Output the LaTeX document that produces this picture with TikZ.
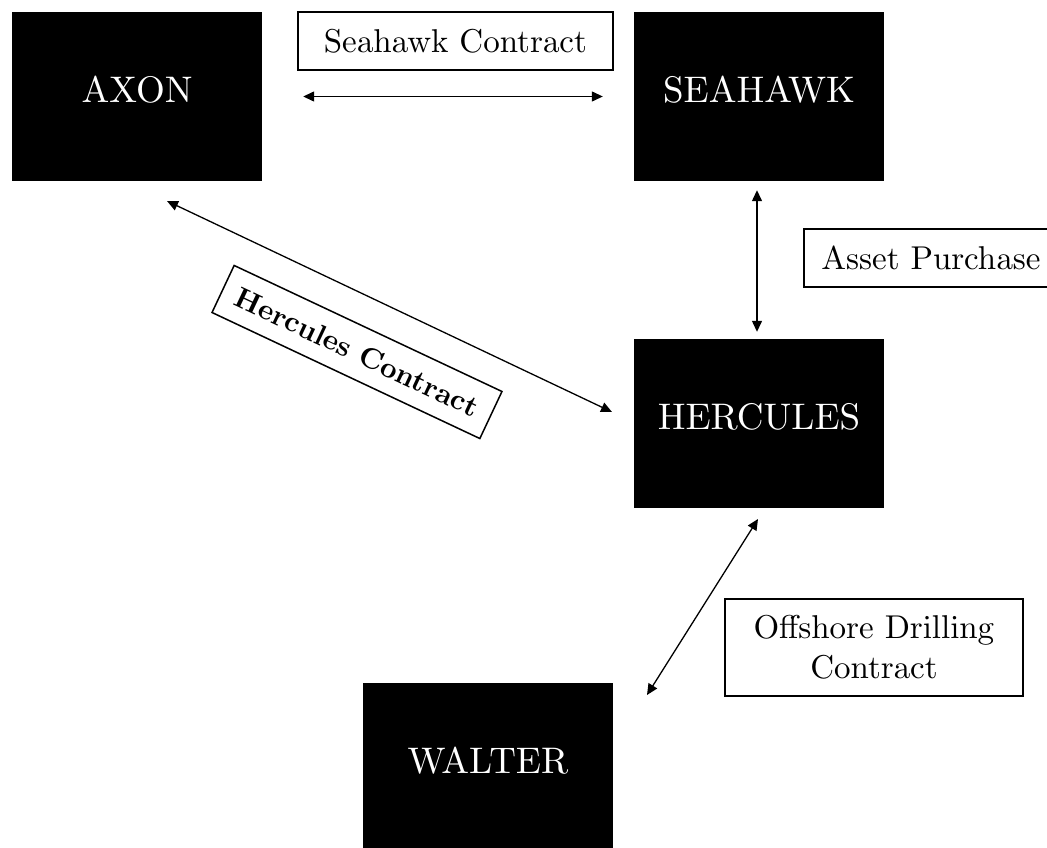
\documentclass[tikz,border=0pt]{standalone}
\usetikzlibrary{arrows.meta,calc}
\font\entfont=cmr10 at 37pt
\font\lblfont=cmr10 at 33pt
\font\lblbf=cmbx10 at 29pt
\begin{document}
\begin{tikzpicture}[x=1pt,y=-1pt,
  entity/.style={fill=black, text=white, minimum width=250pt, minimum height=169pt,
    inner sep=0pt, text depth=14pt, font=\entfont},
  lbl/.style={draw=black, line width=1.5pt, fill=white, inner sep=0pt,
    font={\lblfont\baselineskip=40pt}, align=center},
  arr/.style={line width=1.3pt, {Triangle[length=11pt,width=10pt]}-{Triangle[length=11pt,width=10pt]}}
]
\useasboundingbox (0,0) rectangle (1047,848);
\fill[white] (0,0) rectangle (1047,848);
\clip (0,0) rectangle (1047,848);

\node[entity] (axon) at (137,96.5) {AXON};
\node[entity] (seahawk) at (759,96.5) {SEAHAWK};
\node[entity] (hercules) at (759,423.5) {HERCULES};
\node[entity] (walter) at (488,767.5) {WALTER};

\node[lbl, minimum width=315pt, minimum height=58pt] (lseahawk) at (455.5,41) {Seahawk Contract};
\node[lbl, minimum width=254pt, minimum height=58pt] (lasset) at (931,258) {Asset Purchase};
\node[lbl, minimum width=298pt, minimum height=97pt] (loffshore) at (874,647.5) {Offshore Drilling\\Contract};
\node[lbl, rotate=-25.2, minimum width=296pt, minimum height=52pt,
  font=\lblbf] (lhercules) at (357,352) {Hercules Contract};

\coordinate (hcA) at (167,201);
\coordinate (hcB) at (612,412);
\coordinate (odA) at (758,519);
\coordinate (odB) at (647,695);

\draw[arr, shorten <=41pt, shorten >=31pt] (axon.east) -- (seahawk.west);
\draw[arr, shorten <=9pt, shorten >=7pt] ($(seahawk.south)+(-2,0)$) -- ($(hercules.north)+(-2,0)$);
\draw[arr] (hcA) -- (hcB);
\draw[arr] (odA) -- (odB);
\end{tikzpicture}
\end{document}
